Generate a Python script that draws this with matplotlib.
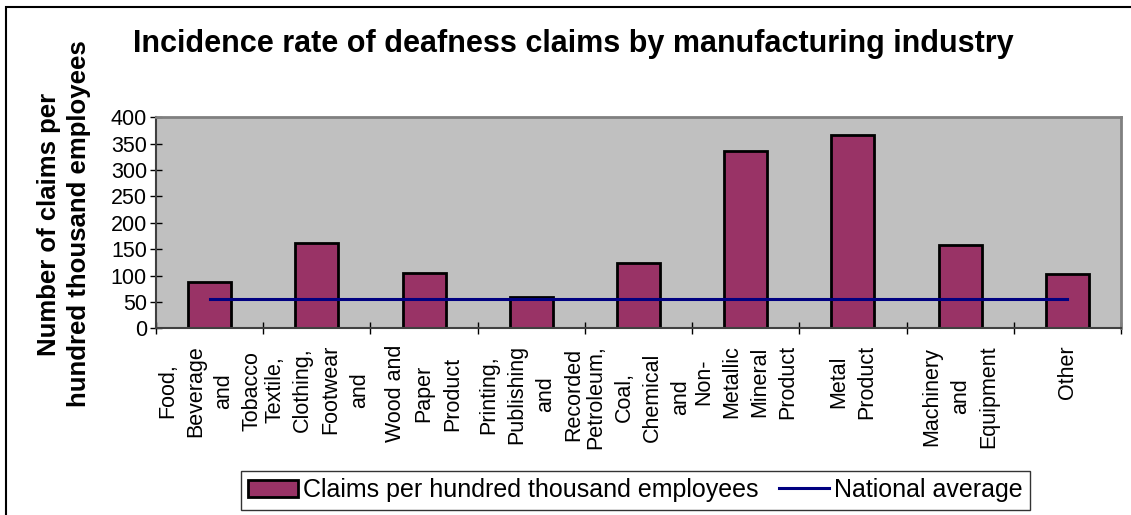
import matplotlib
matplotlib.use("Agg")
import matplotlib.pyplot as plt
from matplotlib.patches import Rectangle
import numpy as np

plt.rcParams['font.family'] = ['Liberation Sans', 'DejaVu Sans']

# data
industries = ["Food,\nBeverage\nand\nTobacco",
              "Textile,\nClothing,\nFootwear\nand",
              "Wood and\nPaper\nProduct",
              "Printing,\nPublishing\nand\nRecorded",
              "Petroleum,\nCoal,\nChemical\nand",
              "Non-\nMetallic\nMineral\nProduct",
              "Metal\nProduct",
              "Machinery\nand\nEquipment",
              "Other"]
claims = [88, 162, 104, 59, 124, 337, 366, 157, 102]
national_avg = [55] * len(industries)
yticks = [0, 50, 100, 150, 200, 250, 300, 350, 400]

fig = plt.figure(figsize=(11.31, 5.15), dpi=100)
ax = fig.add_axes([156/1131, 1-328.3/515, (1121-156)/1131, (328.3-117.3)/515])
ax.set_facecolor('#C0C0C0')

x = np.arange(len(industries))
bars = ax.bar(x, claims, width=0.4, color='#993366', edgecolor='black', linewidth=2,
              label='Claims per hundred thousand employees', zorder=2)
line, = ax.plot(x, national_avg, color='#000080', linewidth=2.2,
                label='National average', zorder=3)

ax.set_xlim(-0.5, len(industries) - 0.5)
ax.set_ylim(0, 400)
ax.set_yticks(yticks)
ax.tick_params(axis='y', direction='inout', length=9, width=1, labelsize=15.5, pad=2)

ax.set_xticks(x)
ax.set_xticklabels(industries, rotation=90, ha='center', va='top',
                   multialignment='center', fontsize=15.5, linespacing=1.45)
ax.tick_params(axis='x', which='major', length=0, pad=12)
ax.set_xticks(np.arange(-0.5, len(industries)), minor=True)
ax.tick_params(axis='x', which='minor', direction='inout', length=9, width=1)

for s in ['top', 'right']:
    ax.spines[s].set_color('#808080')
    ax.spines[s].set_linewidth(2)
for s in ['left', 'bottom']:
    ax.spines[s].set_color('#404040')
    ax.spines[s].set_linewidth(1.5)

fig.text(573/1131, 1-44/515, "Incidence rate of deafness claims by manufacturing industry",
         ha='center', va='center', fontsize=22, fontweight='bold')
fig.text(64/1131, 1-224/515, "Number of claims per\nhundred thousand employees",
         rotation=90, ha='center', va='center', multialignment='center',
         fontsize=18.5, fontweight='bold', linespacing=1.3)

leg = fig.legend([bars, line], [bars.get_label(), line.get_label()],
                 loc='center', bbox_to_anchor=(635.5/1131, 1-490/515), ncol=2,
                 fontsize=18, frameon=True, fancybox=False, edgecolor='black',
                 handlelength=2.0, handletextpad=0.2, columnspacing=0.8,
                 borderpad=0.3, borderaxespad=0)
leg.get_frame().set_linewidth(1)

# chart border (only left and top fall inside the image)
fig.patches.append(Rectangle((6/1131, -0.1), 1.2, 1-7/515 + 0.1, transform=fig.transFigure,
                             fill=False, edgecolor='black', linewidth=1.5))

fig.savefig("out.png", dpi=100)
